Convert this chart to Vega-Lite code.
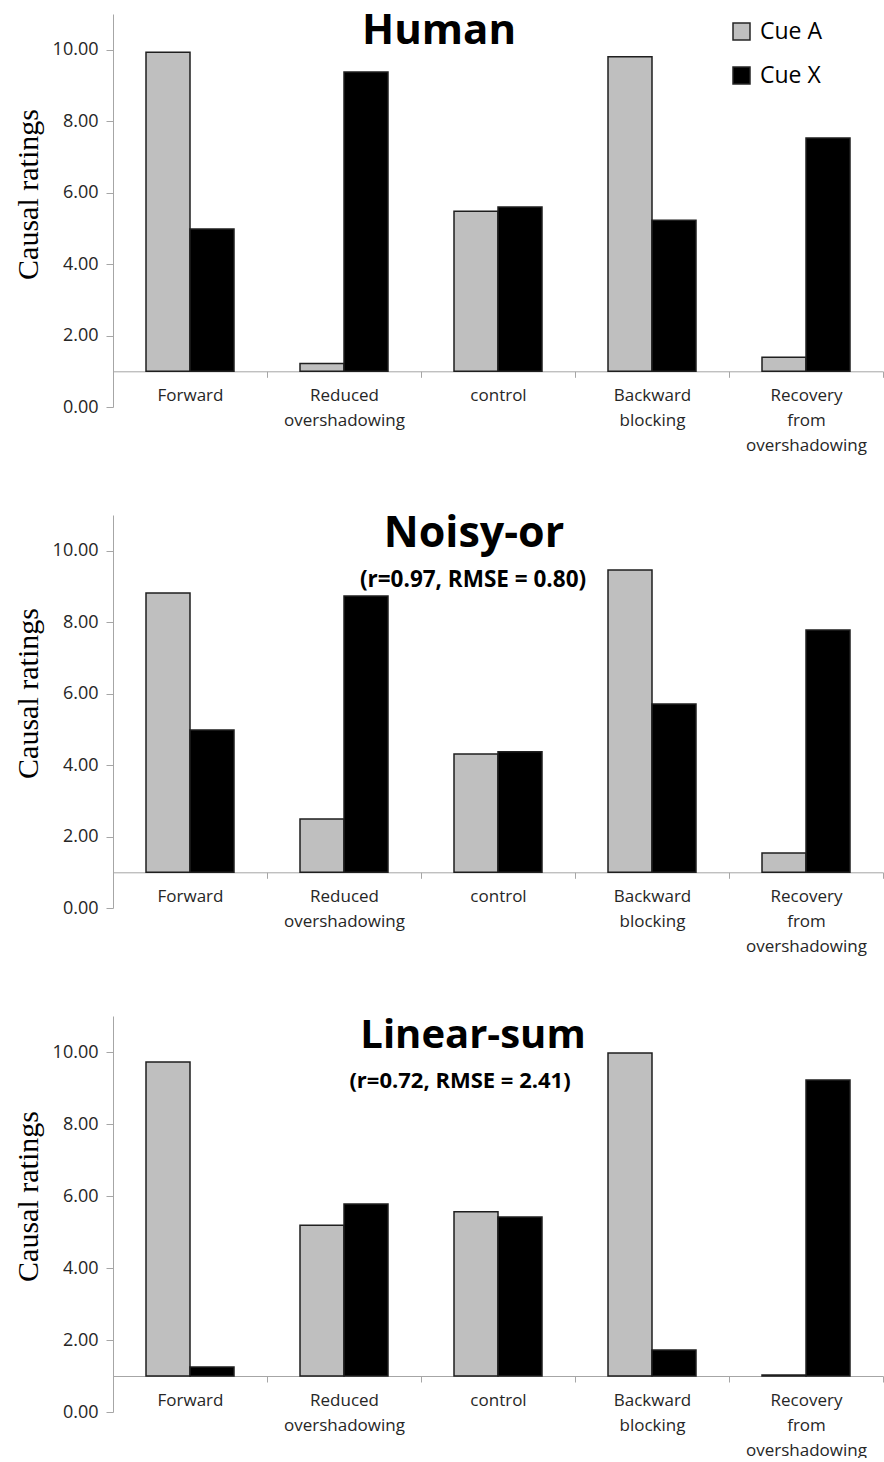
{
  "$schema": "https://vega.github.io/schema/vega-lite/v6.json",
  "background": "white",
  "padding": {"left": 13, "top": 9, "right": 0, "bottom": 0},
  "bounds": "flush",
  "spacing": 108,
  "config": {"view": {"stroke": null}, "font": "Open Sans"},
  "datasets": {
    "ratings": [
      {"model": "Human", "condition": "Forward", "cue": "Cue A", "rating": 9.93},
      {"model": "Human", "condition": "Forward", "cue": "Cue X", "rating": 4.98},
      {"model": "Human", "condition": "Reduced|overshadowing", "cue": "Cue A", "rating": 1.22},
      {"model": "Human", "condition": "Reduced|overshadowing", "cue": "Cue X", "rating": 9.38},
      {"model": "Human", "condition": "control", "cue": "Cue A", "rating": 5.48},
      {"model": "Human", "condition": "control", "cue": "Cue X", "rating": 5.6},
      {"model": "Human", "condition": "Backward|blocking", "cue": "Cue A", "rating": 9.8},
      {"model": "Human", "condition": "Backward|blocking", "cue": "Cue X", "rating": 5.23},
      {"model": "Human", "condition": "Recovery|from|overshadowing", "cue": "Cue A", "rating": 1.39},
      {"model": "Human", "condition": "Recovery|from|overshadowing", "cue": "Cue X", "rating": 7.53},
      {"model": "Noisy-or", "condition": "Forward", "cue": "Cue A", "rating": 8.82},
      {"model": "Noisy-or", "condition": "Forward", "cue": "Cue X", "rating": 4.98},
      {"model": "Noisy-or", "condition": "Reduced|overshadowing", "cue": "Cue A", "rating": 2.49},
      {"model": "Noisy-or", "condition": "Reduced|overshadowing", "cue": "Cue X", "rating": 8.73},
      {"model": "Noisy-or", "condition": "control", "cue": "Cue A", "rating": 4.31},
      {"model": "Noisy-or", "condition": "control", "cue": "Cue X", "rating": 4.37},
      {"model": "Noisy-or", "condition": "Backward|blocking", "cue": "Cue A", "rating": 9.46},
      {"model": "Noisy-or", "condition": "Backward|blocking", "cue": "Cue X", "rating": 5.71},
      {"model": "Noisy-or", "condition": "Recovery|from|overshadowing", "cue": "Cue A", "rating": 1.54},
      {"model": "Noisy-or", "condition": "Recovery|from|overshadowing", "cue": "Cue X", "rating": 7.78},
      {"model": "Linear-sum", "condition": "Forward", "cue": "Cue A", "rating": 9.72},
      {"model": "Linear-sum", "condition": "Forward", "cue": "Cue X", "rating": 1.25},
      {"model": "Linear-sum", "condition": "Reduced|overshadowing", "cue": "Cue A", "rating": 5.19},
      {"model": "Linear-sum", "condition": "Reduced|overshadowing", "cue": "Cue X", "rating": 5.78},
      {"model": "Linear-sum", "condition": "control", "cue": "Cue A", "rating": 5.56},
      {"model": "Linear-sum", "condition": "control", "cue": "Cue X", "rating": 5.42},
      {"model": "Linear-sum", "condition": "Backward|blocking", "cue": "Cue A", "rating": 9.97},
      {"model": "Linear-sum", "condition": "Backward|blocking", "cue": "Cue X", "rating": 1.72},
      {"model": "Linear-sum", "condition": "Recovery|from|overshadowing", "cue": "Cue A", "rating": 1.03},
      {"model": "Linear-sum", "condition": "Recovery|from|overshadowing", "cue": "Cue X", "rating": 9.22}
    ]
  },
  "vconcat": [
    {
      "width": 770, "height": 393,
      "layer": [
        {
          "data": {"name": "ratings"},
          "transform": [{"filter": "datum.model === 'Human'"}],
          "mark": {"type": "bar", "stroke": "#1f1f1f", "strokeWidth": 1.5},
          "encoding": {
            "x": {"field": "condition", "type": "nominal",
              "scale": {"domain": ["Forward", "Reduced|overshadowing", "control", "Backward|blocking", "Recovery|from|overshadowing"], "paddingInner": 0, "paddingOuter": 0},
              "axis": {"title": null, "labelAngle": 0, "labelExpr": "split(datum.label, '|')", "labelFontSize": 17, "labelLineHeight": 25, "labelColor": "#262626", "labelPadding": 10, "tickSize": 6, "tickBand": "extent", "tickColor": "#A6A6A6", "domainColor": "#A6A6A6", "offset": -35.7}},
            "xOffset": {"field": "cue", "type": "nominal", "scale": {"paddingInner": 0, "paddingOuter": 0.75}},
            "y": {"field": "rating", "type": "quantitative", "scale": {"domain": [0, 11], "nice": false},
              "axis": {"title": "Causal ratings", "titleFont": "Liberation Serif", "titleFontSize": 30, "titleFontWeight": "normal", "titleColor": "#000000", "titlePadding": 9, "titleY": 180, "values": [0, 2, 4, 6, 8, 10], "format": ".2f", "labelFontSize": 18, "labelColor": "#262626", "labelPadding": 8, "tickSize": 7, "tickColor": "#A6A6A6", "domainColor": "#A6A6A6", "grid": false}},
            "y2": {"datum": 1},
            "fill": {"field": "cue", "type": "nominal", "scale": {"domain": ["Cue A", "Cue X"], "range": ["#BFBFBF", "#000000"]},
              "legend": {"title": null, "orient": "none", "legendX": 617, "legendY": 6, "symbolType": "square", "symbolSize": 289, "symbolStrokeColor": "#262626", "symbolStrokeWidth": 1.5, "labelFontSize": 23, "labelColor": "#000000", "labelOffset": 7, "rowPadding": 20, "labelFont": "Open Sans"}}
          }
        },
        {
          "data": {"values": [{"t": "Human"}]},
          "mark": {"type": "text", "fontSize": 42, "fontWeight": "bold", "dx": -59, "color": "#000000", "baseline": "middle"},
          "encoding": {"x": {"datum": "control", "type": "nominal"}, "y": {"datum": 10.53, "type": "quantitative"}, "text": {"field": "t"}}
        }
      ]
    },
    {
      "width": 770, "height": 393,
      "layer": [
        {
          "data": {"name": "ratings"},
          "transform": [{"filter": "datum.model === 'Noisy-or'"}],
          "mark": {"type": "bar", "stroke": "#1f1f1f", "strokeWidth": 1.5},
          "encoding": {
            "x": {"field": "condition", "type": "nominal",
              "scale": {"domain": ["Forward", "Reduced|overshadowing", "control", "Backward|blocking", "Recovery|from|overshadowing"], "paddingInner": 0, "paddingOuter": 0},
              "axis": {"title": null, "labelAngle": 0, "labelExpr": "split(datum.label, '|')", "labelFontSize": 17, "labelLineHeight": 25, "labelColor": "#262626", "labelPadding": 10, "tickSize": 6, "tickBand": "extent", "tickColor": "#A6A6A6", "domainColor": "#A6A6A6", "offset": -35.7}},
            "xOffset": {"field": "cue", "type": "nominal", "scale": {"paddingInner": 0, "paddingOuter": 0.75}},
            "y": {"field": "rating", "type": "quantitative", "scale": {"domain": [0, 11], "nice": false},
              "axis": {"title": "Causal ratings", "titleFont": "Liberation Serif", "titleFontSize": 30, "titleFontWeight": "normal", "titleColor": "#000000", "titlePadding": 9, "titleY": 178, "values": [0, 2, 4, 6, 8, 10], "format": ".2f", "labelFontSize": 18, "labelColor": "#262626", "labelPadding": 8, "tickSize": 7, "tickColor": "#A6A6A6", "domainColor": "#A6A6A6", "grid": false}},
            "y2": {"datum": 1},
            "fill": {"field": "cue", "type": "nominal", "scale": {"domain": ["Cue A", "Cue X"], "range": ["#BFBFBF", "#000000"]},
              "legend": {"title": null, "orient": "none", "legendX": 617, "legendY": 6, "symbolType": "square", "symbolSize": 289, "symbolStrokeColor": "#262626", "symbolStrokeWidth": 1.5, "labelFontSize": 23, "labelColor": "#000000", "labelOffset": 7, "rowPadding": 20, "labelFont": "Open Sans"}}
          }
        },
        {
          "data": {"values": [{"t": "Noisy-or"}]},
          "mark": {"type": "text", "fontSize": 43, "fontWeight": "bold", "dx": -24, "color": "#000000", "baseline": "middle"},
          "encoding": {"x": {"datum": "control", "type": "nominal"}, "y": {"datum": 10.47, "type": "quantitative"}, "text": {"field": "t"}}
        },
        {
          "data": {"values": [{"t": "(r=0.97, RMSE = 0.80)"}]},
          "mark": {"type": "text", "fontSize": 22.5, "fontWeight": "bold", "dx": -25, "color": "#000000", "baseline": "middle"},
          "encoding": {"x": {"datum": "control", "type": "nominal"}, "y": {"datum": 9.18, "type": "quantitative"}, "text": {"field": "t"}}
        }
      ]
    },
    {
      "width": 770, "height": 396,
      "layer": [
        {
          "data": {"name": "ratings"},
          "transform": [{"filter": "datum.model === 'Linear-sum'"}],
          "mark": {"type": "bar", "stroke": "#1f1f1f", "strokeWidth": 1.5},
          "encoding": {
            "x": {"field": "condition", "type": "nominal",
              "scale": {"domain": ["Forward", "Reduced|overshadowing", "control", "Backward|blocking", "Recovery|from|overshadowing"], "paddingInner": 0, "paddingOuter": 0},
              "axis": {"title": null, "labelAngle": 0, "labelExpr": "split(datum.label, '|')", "labelFontSize": 17, "labelLineHeight": 25, "labelColor": "#262626", "labelPadding": 10, "tickSize": 6, "tickBand": "extent", "tickColor": "#A6A6A6", "domainColor": "#A6A6A6", "offset": -36}},
            "xOffset": {"field": "cue", "type": "nominal", "scale": {"paddingInner": 0, "paddingOuter": 0.75}},
            "y": {"field": "rating", "type": "quantitative", "scale": {"domain": [0, 11], "nice": false},
              "axis": {"title": "Causal ratings", "titleFont": "Liberation Serif", "titleFontSize": 30, "titleFontWeight": "normal", "titleColor": "#000000", "titlePadding": 9, "titleY": 180, "values": [0, 2, 4, 6, 8, 10], "format": ".2f", "labelFontSize": 18, "labelColor": "#262626", "labelPadding": 8, "tickSize": 7, "tickColor": "#A6A6A6", "domainColor": "#A6A6A6", "grid": false}},
            "y2": {"datum": 1},
            "fill": {"field": "cue", "type": "nominal", "scale": {"domain": ["Cue A", "Cue X"], "range": ["#BFBFBF", "#000000"]},
              "legend": {"title": null, "orient": "none", "legendX": 617, "legendY": 8, "symbolType": "square", "symbolSize": 289, "symbolStrokeColor": "#262626", "symbolStrokeWidth": 1.5, "labelFontSize": 23, "labelColor": "#000000", "labelOffset": 7, "rowPadding": 20, "labelFont": "Open Sans"}}
          }
        },
        {
          "data": {"values": [{"t": "Linear-sum"}]},
          "mark": {"type": "text", "fontSize": 40, "fontWeight": "bold", "dx": -25, "color": "#000000", "baseline": "middle"},
          "encoding": {"x": {"datum": "control", "type": "nominal"}, "y": {"datum": 10.44, "type": "quantitative"}, "text": {"field": "t"}}
        },
        {
          "data": {"values": [{"t": "(r=0.72, RMSE = 2.41)"}]},
          "mark": {"type": "text", "fontSize": 22, "fontWeight": "bold", "dx": -38, "color": "#000000", "baseline": "middle"},
          "encoding": {"x": {"datum": "control", "type": "nominal"}, "y": {"datum": 9.19, "type": "quantitative"}, "text": {"field": "t"}}
        }
      ]
    }
  ]
}
